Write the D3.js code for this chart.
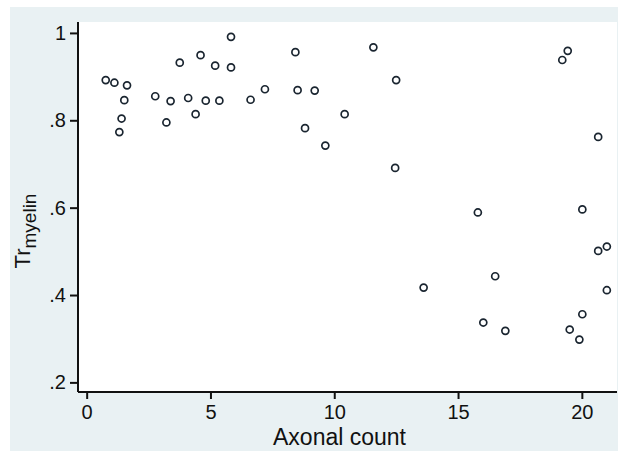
<!DOCTYPE html>
<html>
<head>
    <title>Trmyelin vs axonal count</title>
    <script src="https://d3js.org/d3.v7.min.js"></script>
    <style>
        html, body {
            margin: 0;
            background: #ffffff;
            overflow: hidden;
        }
        svg text {
            font-family: "Liberation Sans", Arial, Helvetica, sans-serif;
            fill: #111;
        }
    </style>
</head>
<body>
    <div id="chart"></div>

    <script>
        // Data
        const axonalCount = [
            0.77, 1.12, 1.63, 1.52, 1.41, 1.32, 2.77, 3.39, 3.22, 3.76,
            4.10, 4.40, 4.60, 4.81, 5.19, 5.36, 5.83, 5.83, 6.62, 7.20,
            8.43, 8.52, 9.21, 8.82, 9.64, 10.42, 11.58, 12.50, 12.46, 19.43,
            19.21, 20.66, 15.80, 20.02, 20.66, 21.01, 16.50, 13.61, 21.01, 20.02,
            16.02, 16.91, 19.51, 19.90
        ];
        const trMyelin = [
            0.892, 0.886, 0.880, 0.846, 0.804, 0.773, 0.855, 0.844, 0.795, 0.932,
            0.851, 0.814, 0.949, 0.845, 0.925, 0.845, 0.991, 0.921, 0.847, 0.871,
            0.956, 0.869, 0.868, 0.782, 0.742, 0.814, 0.967, 0.892, 0.691, 0.959,
            0.938, 0.762, 0.589, 0.596, 0.501, 0.511, 0.443, 0.417, 0.411, 0.356,
            0.337, 0.318, 0.321, 0.298
        ];
        const xTicks = [0, 5, 10, 15, 20];
        const yTicks = [0.2, 0.4, 0.6, 0.8, 1];

        const W = 618, H = 453;
        // plot region
        const plot = {left: 78, top: 22, right: 617, bottom: 392};

        const svg = d3.select("#chart")
            .append("svg")
            .attr("width", W)
            .attr("height", H);

        // outer graph region
        svg.append("rect")
            .attr("x", 10).attr("y", 7)
            .attr("width", W - 10).attr("height", 444)
            .attr("fill", "#e9f1f3");

        svg.append("rect")
            .attr("x", plot.left).attr("y", plot.top)
            .attr("width", plot.right - plot.left)
            .attr("height", plot.bottom - plot.top)
            .attr("fill", "#ffffff");

        const x = d3.scaleLinear()
            .domain([-0.35, 21.42])
            .range([plot.left, plot.right]);

        const y = d3.scaleLinear()
            .domain([0.178, 1.025])
            .range([plot.bottom, plot.top]);

        const fmt = d => d === 1 ? "1" : d3.format(".1f")(d).replace(/^0/, "");

        // x axis
        const gx = svg.append("g")
            .attr("transform", `translate(0,${plot.bottom})`)
            .call(d3.axisBottom(x).tickValues(xTicks).tickSize(7).tickPadding(6).tickSizeOuter(0));
        gx.select(".domain").attr("stroke", "#111").attr("stroke-width", 2)
            .attr("d", `M${plot.left},0H${plot.right}`);
        gx.selectAll(".tick line").attr("stroke", "#111").attr("stroke-width", 2);
        gx.selectAll(".tick text").style("font-size", "20px");

        // y axis
        const gy = svg.append("g")
            .attr("transform", `translate(${plot.left},0)`)
            .call(d3.axisLeft(y).tickValues(yTicks).tickFormat(fmt).tickSize(8).tickPadding(4).tickSizeOuter(0));
        gy.select(".domain").attr("stroke", "#111").attr("stroke-width", 2)
            .attr("d", `M0,${plot.top}V${plot.bottom}`);
        gy.selectAll(".tick line").attr("stroke", "#111").attr("stroke-width", 2);
        gy.selectAll(".tick text").style("font-size", "20px");

        // axis titles
        svg.append("text")
            .attr("x", (plot.left + plot.right) / 2 - 8)
            .attr("y", 445)
            .attr("text-anchor", "middle")
            .style("font-size", "23px")
            .text("Axonal count");

        const yt = svg.append("text")
            .attr("transform", "translate(30,231) rotate(-90)")
            .attr("text-anchor", "middle")
            .style("font-size", "22px");
        yt.append("tspan").text("Tr");
        yt.append("tspan")
            .attr("dy", 6)
            .style("font-size", "19px")
            .text("myelin");

        // points
        svg.append("g")
            .selectAll("circle")
            .data(axonalCount.map((d, i) => [d, trMyelin[i]]))
            .join("circle")
            .attr("cx", d => x(d[0]))
            .attr("cy", d => y(d[1]))
            .attr("r", 3.5)
            .attr("fill", "none")
            .attr("stroke", "#1a2530")
            .attr("stroke-width", 1.7);
    </script>
</body>
</html>
